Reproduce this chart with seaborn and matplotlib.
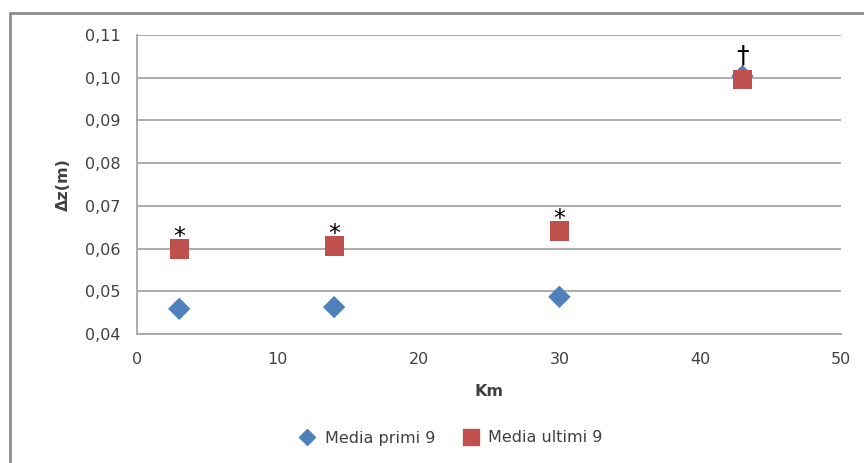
import matplotlib
matplotlib.use("Agg")
import matplotlib.pyplot as plt
from matplotlib.lines import Line2D
import seaborn as sns
import pandas as pd

# Distance along the route (km) and mean vertical displacement (m)
km = [3, 14, 30, 43]
media_primi = [0.0459, 0.0463, 0.0487, 0.1004]
media_ultimi = [0.0599, 0.0606, 0.0641, 0.0995]
marks = ["*", "*", "*", "\u2020"]

series_names = ["Media primi 9", "Media ultimi 9"]
y_ticks = [0.04, 0.05, 0.06, 0.07, 0.08, 0.09, 0.10, 0.11]
x_ticks = [0, 10, 20, 30, 40, 50]

blue = "#4F81BD"
red = "#C0504D"
grid_col = "#A6A6A6"
text_col = "#404040"

sns.set_theme(style="white")
plt.rcParams["font.family"] = ["DejaVu Sans"]

df_a = pd.DataFrame({"km": km, "dz": media_primi})
df_b = pd.DataFrame({"km": km, "dz": media_ultimi})

fig = plt.figure(figsize=(8.64, 4.63), dpi=100)
ax = fig.add_axes([137 / 864, 1 - 334 / 463, (841 - 137) / 864, (334 - 35) / 463])

sns.scatterplot(data=df_a, x="km", y="dz", marker="D", s=130, color=blue,
                edgecolor="none", ax=ax, zorder=3)
sns.scatterplot(data=df_b, x="km", y="dz", marker="s", s=190, color=red,
                edgecolor="none", ax=ax, zorder=4)

# significance marks above each pair
for xv, ya, yb, m in zip(km, media_primi, media_ultimi, marks):
    top = max(ya, yb)
    if m == "*":
        ax.annotate(m, (xv, top), xytext=(0, 0), textcoords="offset points",
                    ha="center", va="bottom", fontsize=17, color="black")
    else:
        ax.annotate(m, (xv, top), xytext=(0, 6), textcoords="offset points",
                    ha="center", va="bottom", fontsize=18, color="black")

ax.set_xlim(0, 50)
ax.set_ylim(0.04, 0.11)
ax.set_xticks(x_ticks)
ax.set_yticks(y_ticks)
ax.set_xticklabels([str(t) for t in x_ticks])
ax.set_yticklabels([f"{t:.2f}".replace(".", ",") for t in y_ticks])

ax.yaxis.grid(True, color=grid_col, linewidth=1.3)
ax.xaxis.grid(False)
for side in ["top", "right"]:
    ax.spines[side].set_visible(False)
for side in ["left", "bottom"]:
    ax.spines[side].set_color(grid_col)
    ax.spines[side].set_linewidth(1.3)

ax.tick_params(axis="both", which="both", direction="out", length=6,
               width=1.2, color=grid_col, labelcolor=text_col, labelsize=11.5)
ax.tick_params(axis="y", pad=6)
ax.tick_params(axis="x", pad=7)

ax.set_xlabel("Km", fontsize=11.5, fontweight="bold", color=text_col, labelpad=12)
ax.set_ylabel("\u0394z(m)", fontsize=11.5, fontweight="bold", color=text_col, labelpad=10)

handles = [
    Line2D([], [], marker="D", linestyle="none", color=blue, markersize=8, label=series_names[0]),
    Line2D([], [], marker="s", linestyle="none", color=red, markersize=12, label=series_names[1]),
]
fig.legend(handles=handles, loc="center", bbox_to_anchor=(447 / 864, 1 - 438 / 463),
           ncol=2, frameon=False, fontsize=11.5, handletextpad=0.1, columnspacing=1.2,
           labelcolor=text_col)

# outer chart frame
fig.add_artist(Line2D([10 / 864, 1.0], [1 - 13 / 463, 1 - 13 / 463],
                      transform=fig.transFigure, color="#8C8C8C", linewidth=2))
fig.add_artist(Line2D([10 / 864, 10 / 864], [0.0, 1 - 13 / 463],
                      transform=fig.transFigure, color="#8C8C8C", linewidth=2))

fig.savefig("out.png", dpi=100)
